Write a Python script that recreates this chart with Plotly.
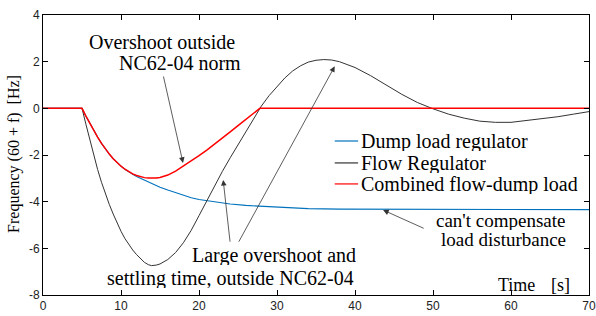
import plotly.graph_objects as go

# ---- data ----
t_dump = [0, 5, 5.5, 6, 6.5, 7, 7.5, 8, 8.5, 9, 9.5, 10, 10.5, 11, 11.5, 12, 13, 14, 15, 16, 17,
          18, 19, 20, 22, 24, 26, 28, 31, 34, 38, 45, 55, 70]
f_dump = [0, 0, -0.33, -0.65, -0.95, -1.23, -1.5, -1.74, -1.96, -2.16, -2.33, -2.48, -2.61, -2.73,
          -2.83, -2.92, -3.08, -3.24, -3.38, -3.5, -3.62, -3.73, -3.83, -3.91, -4.02, -4.1, -4.16,
          -4.2, -4.26, -4.3, -4.32, -4.33, -4.34, -4.34]

t_flow = [0, 5, 5.5, 6, 6.5, 7, 7.5, 8, 8.5, 9, 9.5, 10, 10.5, 11, 11.5, 12, 12.5, 13, 13.5, 13.9,
          14.5, 15, 16, 17, 18, 19, 20, 21, 22, 23, 24, 25, 26, 27, 28, 29, 30, 31, 32, 33, 34, 35,
          36, 37, 38, 40, 42, 44, 46, 48, 50, 52, 54, 56, 58, 60, 62, 64, 66, 68, 70]
f_flow = [0, 0, -0.68, -1.35, -2.0, -2.62, -3.17, -3.67, -4.12, -4.53, -4.92, -5.27, -5.58, -5.84,
          -6.07, -6.27, -6.45, -6.6, -6.7, -6.74, -6.72, -6.67, -6.48, -6.18, -5.76, -5.23, -4.6,
          -3.95, -3.3, -2.7, -2.12, -1.55, -1.0, -0.45, 0.1, 0.55, 0.95, 1.3, 1.6, 1.82, 1.98,
          2.06, 2.09, 2.07, 2.0, 1.75, 1.4, 1.0, 0.6, 0.25, -0.02, -0.25, -0.42, -0.55, -0.6,
          -0.6, -0.53, -0.45, -0.36, -0.25, -0.14]

t_comb = [0, 5, 5.5, 6, 6.5, 7, 7.5, 8, 8.5, 9, 9.5, 10, 10.5, 11, 11.5, 12, 12.5, 13, 13.5, 14,
          14.5, 15, 16, 17, 18, 19, 20, 21, 22, 23, 24, 25, 26, 27, 27.8, 70]
f_comb = [0, 0, -0.33, -0.65, -0.95, -1.23, -1.5, -1.74, -1.96, -2.16, -2.33, -2.48, -2.61, -2.72,
          -2.81, -2.88, -2.94, -2.97, -2.99, -3.0, -2.99, -2.96, -2.86, -2.69, -2.48, -2.26, -2.03,
          -1.79, -1.54, -1.28, -1.01, -0.74, -0.47, -0.2, 0, 0]

series_names = ["Dump load regulator", "Flow Regulator", "Combined flow-dump load"]
series_colors = ["#0072BD", "#333333", "#FF0000"]

x_ticks = [0, 10, 20, 30, 40, 50, 60, 70]
y_ticks = [-8, -6, -4, -2, 0, 2, 4]
y_ticktext = ["-8", "-6", "-4", "-2", "0", "2", "4"]

SERIF = "Liberation Serif"
SANS = "Liberation Sans"

fig = go.Figure()
widths = [1.1, 1.0, 1.5]
for tt, ff, name, col, w in zip([t_dump, t_flow, t_comb], [f_dump, f_flow, f_comb],
                                series_names, series_colors, widths):
    fig.add_trace(go.Scatter(x=tt, y=ff, mode="lines", name=name,
                             line=dict(color=col, width=w), showlegend=False))

# manual legend (tight MATLAB-style spacing, no box)
leg_y = [-1.4, -2.34, -3.24]
for name, col, yy in zip(series_names, series_colors, leg_y):
    fig.add_shape(type="line", x0=37.4, x1=40.4, y0=yy, y1=yy, xref="x", yref="y",
                  line=dict(color=col, width=1.2))
    fig.add_annotation(x=40.6, y=yy, xref="x", yref="y", text=name, showarrow=False,
                       xanchor="left", yanchor="middle", height=20, borderpad=0,
                       font=dict(family=SERIF, size=20, color="black"))

def txt(x, y, s, anchor, size=20):
    fig.add_annotation(x=x, y=y, xref="x", yref="y", text=s, showarrow=False,
                       xanchor=anchor, yanchor="middle", height=size, borderpad=0,
                       font=dict(family=SERIF, size=size, color="black"))

txt(15.3, 2.84, "Overshoot outside", "center")
txt(25.5, 1.94, "NC62-04 norm", "right")
txt(40.3, -6.29, "Large overshoot and", "right")
txt(40.0, -7.25, "settling time, outside NC62-04", "right")
txt(67.2, -4.8, "can't compensate", "right", 19)
txt(67.2, -5.63, "load disturbance", "right", 19)
txt(58.2, -7.59, "Time", "left", 18)
txt(65.0, -7.59, "[s]", "left", 18)

def arrow(x, y, ax, ay):
    fig.add_annotation(x=x, y=y, ax=ax, ay=ay, xref="x", yref="y", axref="x", ayref="y",
                       text="", showarrow=True, arrowhead=2, arrowsize=1.4, arrowwidth=0.8,
                       arrowcolor="#333333", standoff=0, startstandoff=0)

arrow(17.95, -2.34, 15.4, 1.43)
arrow(23.1, -3.07, 24.0, -5.78)
arrow(37.4, 1.8, 25.0, -5.78)
arrow(43.6, -4.36, 49.0, -5.17)

# y-axis title
fig.add_annotation(x=-0.053, y=0.504, xref="paper", yref="paper", text="Frequency (60 + f)  [Hz]",
                   textangle=-90, showarrow=False, xanchor="center", yanchor="middle",
                   font=dict(family=SERIF, size=16, color="black"))

axis_common = dict(showline=True, linecolor="black", linewidth=1, mirror="ticks",
                   ticks="inside", ticklen=5, tickcolor="black", tickwidth=1,
                   showgrid=False, zeroline=False, automargin=False,
                   tickfont=dict(family=SANS, size=12, color="#222222"))

fig.update_xaxes(range=[0, 70], tickvals=x_ticks, **axis_common)
fig.update_yaxes(range=[-8, 4], tickvals=y_ticks, ticktext=y_ticktext, **axis_common)

fig.update_layout(width=596, height=316, margin=dict(l=43, r=7, t=15, b=21),
                  plot_bgcolor="white", paper_bgcolor="white", showlegend=False,
                  font=dict(family=SERIF))

fig.write_html("out.html", config={"displayModeBar": False},
               post_script="document.body.style.margin='0';document.body.style.overflow='hidden';")
